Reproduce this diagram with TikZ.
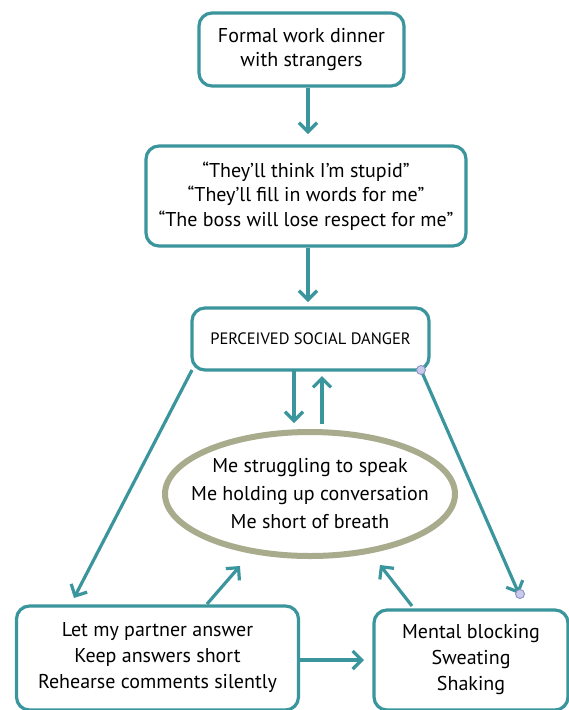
\documentclass[tikz,border=0pt]{standalone}
\usepackage{fontspec}
\setmainfont{PT Sans}
\usetikzlibrary{arrows.meta,shapes.geometric}
\definecolor{teal1}{HTML}{3A959C}
\definecolor{olive1}{HTML}{A8AB8C}
\definecolor{dotfill}{HTML}{C8CBEA}
\definecolor{dotline}{HTML}{8A90C4}
\tikzset{
  box/.style={draw=teal1, line width=3.2pt, rounded corners=13pt, fill=white, align=center, inner sep=0pt, font=\fontsize{20}{24.5}\selectfont},
  conn/.style={draw=teal1, line width=3.2pt, -{Straight Barb[length=9pt,width=18pt,line width=3.2pt]}},
  dot/.style={circle, draw=dotline, fill=dotfill, line width=0.9pt, minimum size=9pt, inner sep=0pt},
  ring/.style={draw=olive1, line width=6pt}
}
\begin{document}
\begin{tikzpicture}[x=1pt,y=-1pt]
\useasboundingbox (0,0) rectangle (569,710);
\node[box, minimum width=205pt, minimum height=73pt] (b1) at (301.5,49.5) {Formal work dinner\\with strangers};
\node[box, minimum width=320pt, minimum height=100pt] (b2) at (306,196) {“They’ll think I’m stupid”\\“They’ll fill in words for me”\\“The boss will lose respect for me”};
\node[box, minimum width=237pt, minimum height=62pt, font=\fontsize{16.5}{20}\selectfont] (b3) at (310.5,339) {PERCEIVED SOCIAL DANGER};
\node[align=center, inner sep=0pt, font=\fontsize{20}{28}\selectfont] (el) at (310,494) {Me struggling to speak\\Me holding up conversation\\Me short of breath};
\draw[ring] (el.center) ellipse [x radius=145pt, y radius=62pt];
\node[box, minimum width=282pt, minimum height=104pt, font=\fontsize{20}{26}\selectfont] (b4) at (157.5,658) {Let my partner answer\\Keep answers short\\Rehearse comments silently};
\node[box, minimum width=194pt, minimum height=100pt, font=\fontsize{20}{26}\selectfont] (b5) at (471,660) {Mental blocking\\Sweating\\Shaking};
% coordinates
\coordinate (a1s) at (308,88);
\coordinate (a1e) at (308,134);
\coordinate (a2s) at (308,248);
\coordinate (a2e) at (308,302);
\coordinate (d1s) at (294,371);
\coordinate (d1e) at (294,423);
\coordinate (u1s) at (322,424);
\coordinate (u1e) at (322,376);
\coordinate (l1s) at (192,370);
\coordinate (l1e) at (74,598);
\coordinate (r1s) at (421,370);
\coordinate (r1e) at (519,594);
\coordinate (lu1s) at (207,604);
\coordinate (lu1e) at (240,566);
\coordinate (ru1s) at (412,606);
\coordinate (ru1e) at (380,565);
\coordinate (h1s) at (299,660);
\coordinate (h1e) at (364,660);
\draw[conn] (a1s) -- (a1e);
\draw[conn] (a2s) -- (a2e);
\draw[conn] (d1s) -- (d1e);
\draw[conn] (u1s) -- (u1e);
\draw[conn] (l1s) -- (l1e);
\draw[conn] (r1s) -- (r1e);
\draw[conn] (lu1s) -- (lu1e);
\draw[conn] (ru1s) -- (ru1e);
\draw[conn] (h1s) -- (h1e);
\node[dot] (dA) at (r1s) {};
\node[dot] (dB) at (520,594) {};
\end{tikzpicture}
\end{document}
